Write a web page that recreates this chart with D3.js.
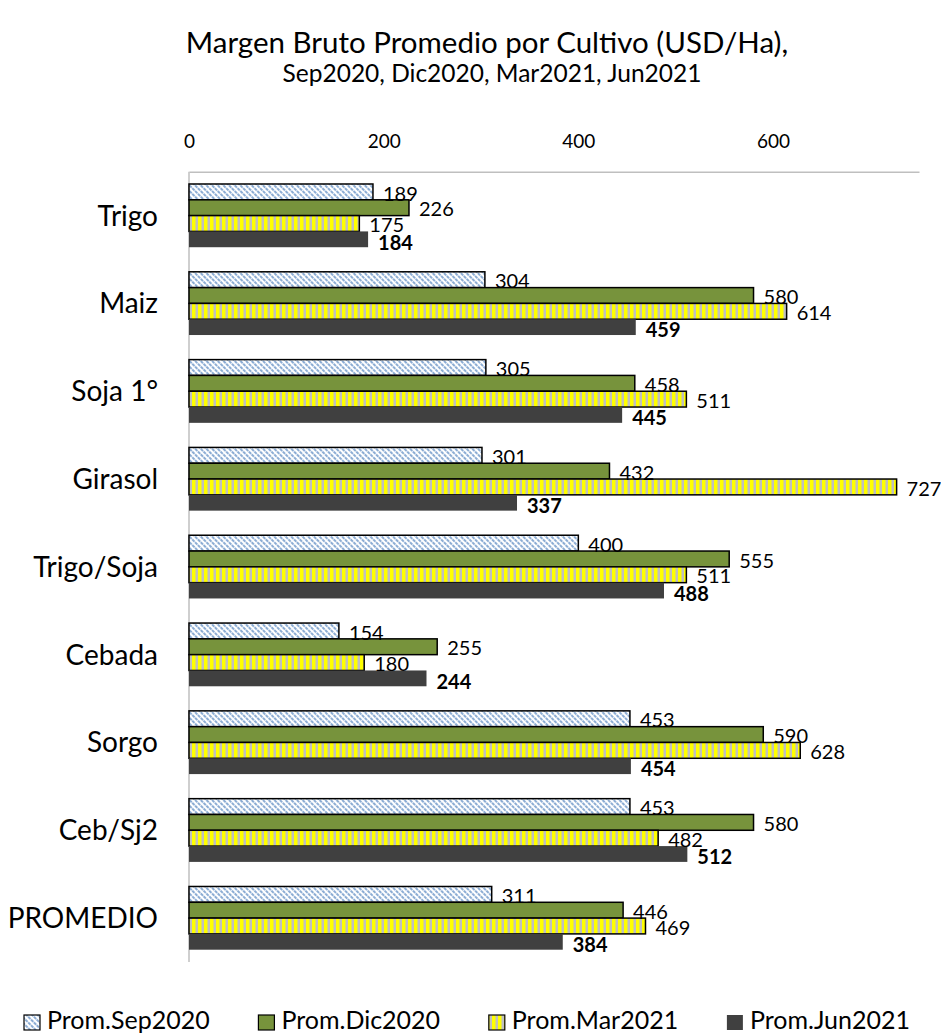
<!DOCTYPE html>
<html>
<head>
<meta charset="utf-8">
<script src="https://cdn.jsdelivr.net/npm/d3@7"></script>
<style>
  html, body { margin: 0; padding: 0; background: #fff; }
  svg { display: block; font-family: Lato, "Open Sans", sans-serif; }
</style>
</head>
<body>
<svg id="chart" width="941" height="1034"></svg>
<script>
const categories = ["Trigo", "Maiz", "Soja 1°", "Girasol", "Trigo/Soja", "Cebada", "Sorgo", "Ceb/Sj2", "PROMEDIO"];
const seriesNames = ["Prom.Sep2020", "Prom.Dic2020", "Prom.Mar2021", "Prom.Jun2021"];
const sep2020 = [189, 304, 305, 301, 400, 154, 453, 453, 311];
const dic2020 = [226, 580, 458, 432, 555, 255, 590, 580, 446];
const mar2021 = [175, 614, 511, 727, 511, 180, 628, 482, 469];
const jun2021 = [184, 459, 445, 337, 488, 244, 454, 512, 384];
const tickValues = [0, 200, 400, 600];
const titleText = "Margen Bruto Promedio por Cultivo (USD/Ha),";
const subtitleText = "Sep2020, Dic2020, Mar2021, Jun2021";

const seriesValues = [sep2020, dic2020, mar2021, jun2021];
const fills = ["url(#pSep)", "#77933C", "url(#pMar)", "#404040"];
const strokes = ["#000", "#000", "#000", "none"];

const svg = d3.select("#chart");
const defs = svg.append("defs");

// Hatched pattern (Sep2020)
const pSep = defs.append("pattern").attr("id", "pSep")
  .attr("patternUnits", "userSpaceOnUse").attr("width", 4).attr("height", 4)
  .attr("patternTransform", "rotate(-45)");
pSep.append("rect").attr("width", 4).attr("height", 4).attr("fill", "#fff");
pSep.append("line").attr("x1", 1).attr("y1", 0).attr("x2", 1).attr("y2", 4)
  .attr("stroke", "#4F81BD").attr("stroke-width", 1.3).attr("stroke-dasharray", "2.2,0.8");

// Vertical stripes (Mar2021)
const pMar = defs.append("pattern").attr("id", "pMar")
  .attr("patternUnits", "userSpaceOnUse").attr("width", 6).attr("height", 6);
pMar.append("rect").attr("width", 6).attr("height", 6).attr("fill", "#C0C0C0");
pMar.append("rect").attr("width", 3.5).attr("height", 6).attr("fill", "#FFFF00");

const plotLeft = 189, plotRight = 919, plotTop = 171.7, plotBottom = 962;

const x = d3.scaleLinear().domain([0, 750]).range([plotLeft, plotRight]);
const y = d3.scaleBand().domain(categories).range([plotTop, plotBottom])
  .paddingInner(0.28).paddingOuter(0.14);
const ys = d3.scaleBand().domain(d3.range(4)).range([0, y.bandwidth()]);

// Title
svg.append("text").attr("x", 487).attr("y", 53).attr("text-anchor", "middle")
  .attr("font-size", 29.5).attr("fill", "#000").text(titleText);
svg.append("text").attr("x", 492).attr("y", 82).attr("text-anchor", "middle")
  .attr("font-size", 24.5).attr("fill", "#000").text(subtitleText);

// Top axis
const axTop = svg.append("g").attr("transform", `translate(0,${plotTop})`)
  .call(d3.axisTop(x).tickValues(tickValues).tickSize(0).tickPadding(24));
axTop.select(".domain").attr("stroke", "#BFBFBF").attr("stroke-width", 1.5);
axTop.selectAll("text").attr("font-size", 19).attr("fill", "#000")
  .attr("font-family", "Lato, 'Open Sans', sans-serif");

// Left axis line
const axLeft = svg.append("g").attr("transform", `translate(${plotLeft},0)`)
  .call(d3.axisLeft(y).tickSize(0).tickFormat(""));
axLeft.select(".domain").attr("stroke", "#BFBFBF").attr("stroke-width", 1.5)
  .attr("d", `M0,${plotTop}V${plotBottom}`);

// Category labels
svg.append("g").selectAll("text").data(categories).join("text")
  .attr("x", 158).attr("y", d => y(d) + y.bandwidth() / 2 + 10)
  .attr("text-anchor", "end").attr("font-size", 28).attr("fill", "#000")
  .text(d => d);

// Bars
const groups = svg.append("g").selectAll("g").data(categories).join("g")
  .attr("transform", d => `translate(0,${y(d)})`);

seriesValues.forEach((vals, s) => {
  groups.append("rect")
    .attr("x", x(0))
    .attr("y", ys(s))
    .attr("width", (d, i) => x(vals[i]) - x(0))
    .attr("height", ys.bandwidth())
    .attr("fill", fills[s])
    .attr("stroke", strokes[s])
    .attr("stroke-width", 1.5);
});
seriesValues.forEach((vals, s) => {
  groups.append("text")
    .attr("x", (d, i) => x(vals[i]) + 10)
    .attr("y", ys(s) + ys.bandwidth() / 2 + 7.2 + (s === 3 ? 3 : 1.5))
    .attr("font-size", 20)
    .attr("font-weight", s === 3 ? "bold" : "normal")
    .attr("fill", "#000")
    .text((d, i) => vals[i]);
});

// Legend: spread items between x=24 and x=910
const legend = svg.append("g");
const items = seriesNames.map((name, s) => {
  const g = legend.append("g");
  const r = g.append("rect").attr("y", 1015).attr("width", 16).attr("height", 15)
    .attr("fill", fills[s]).attr("stroke", s === 3 ? "none" : "#000").attr("stroke-width", 1.2);
  const t = g.append("text").attr("y", 1029)
    .attr("font-size", 25).attr("fill", "#000").text(name);
  return { r, t, w: 23 + t.node().getComputedTextLength() };
});
const legStart = 24, legEnd = 910;
const totalW = d3.sum(items, d => d.w);
const gap = (legEnd - legStart - totalW) / (items.length - 1);
let lx = legStart;
items.forEach(it => {
  it.r.attr("x", lx);
  it.t.attr("x", lx + 23);
  lx += it.w + gap;
});
</script>
</body>
</html>
